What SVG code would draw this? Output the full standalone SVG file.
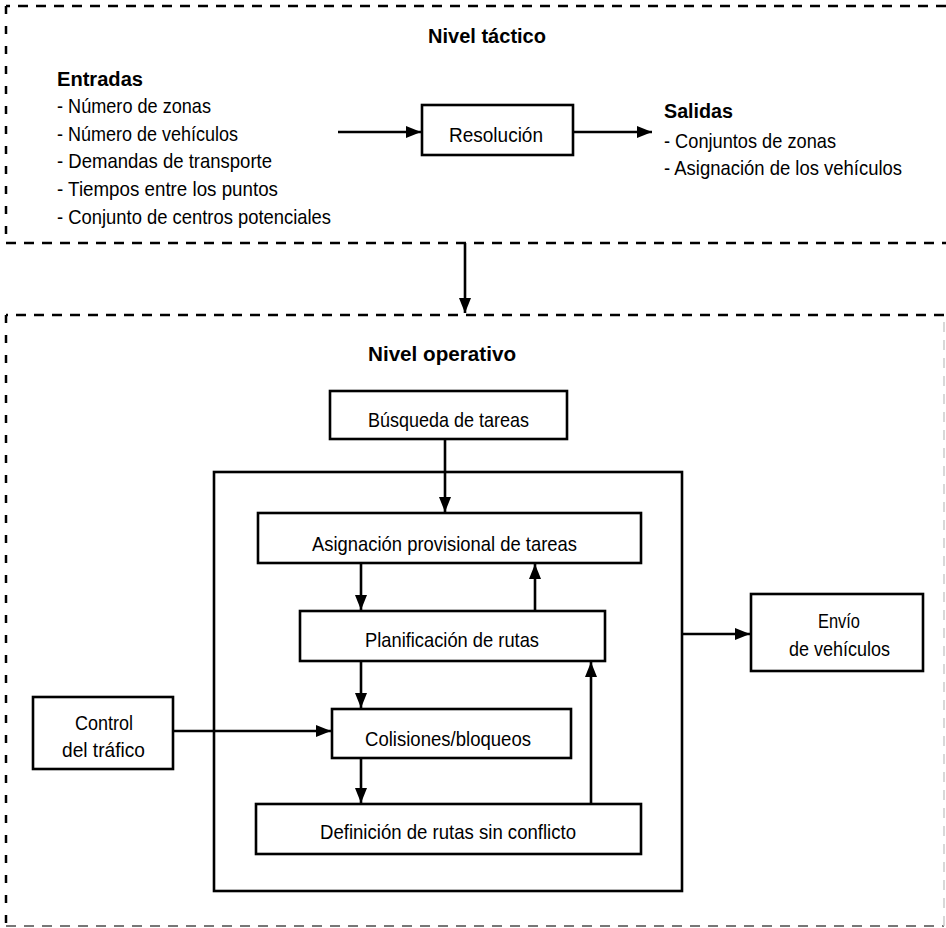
<svg xmlns="http://www.w3.org/2000/svg" width="946" height="928" viewBox="0 0 946 928">
<style>
text{font-family:"Liberation Sans",Arial,sans-serif;font-size:21px;fill:#000}
.b{font-weight:bold;font-size:20px}
.box{fill:#fff;stroke:#000;stroke-width:2.6}
.dash{fill:none;stroke:#000;stroke-width:2.5;stroke-dasharray:10 8}
.dashv{fill:none;stroke:#000;stroke-width:2.5;stroke-dasharray:8 12}
.dashg{fill:none;stroke:#777;stroke-width:2;stroke-dasharray:10 8}
.dashl{fill:none;stroke:#ccc;stroke-width:1.5;stroke-dasharray:10 8}
.c{fill:none;stroke:#000;stroke-width:2.6}
</style>
<defs>
<marker id="ah" markerUnits="userSpaceOnUse" markerWidth="16" markerHeight="12" refX="15" refY="6" orient="auto">
<path d="M0,0 L15,6 L0,12 z" fill="#000"/>
</marker>
</defs>
<rect width="946" height="928" fill="#fff"/>
<g id="nivel-tactico">
<path class="dash" d="M946,6 H6"/>
<path class="dashv" d="M6,6 V243"/>
<path class="dash" d="M6,243 H946"/>
<text class="b" x="428" y="43" textLength="118" lengthAdjust="spacingAndGlyphs">Nivel táctico</text>
</g>
<g id="entradas">
<text class="b" x="57" y="86" textLength="86" lengthAdjust="spacingAndGlyphs">Entradas</text>
<text x="57" y="113" textLength="154" lengthAdjust="spacingAndGlyphs">- Número de zonas</text>
<text x="57" y="141" textLength="181" lengthAdjust="spacingAndGlyphs">- Número de vehículos</text>
<text x="57" y="168" textLength="215" lengthAdjust="spacingAndGlyphs">- Demandas de transporte</text>
<text x="57" y="196" textLength="221" lengthAdjust="spacingAndGlyphs">- Tiempos entre los puntos</text>
<text x="57" y="224" textLength="274" lengthAdjust="spacingAndGlyphs">- Conjunto de centros potenciales</text>
</g>
<g id="resolucion">
<rect class="box" x="422" y="105" width="151" height="50"/>
<text x="449" y="142" textLength="94" lengthAdjust="spacingAndGlyphs">Resolución</text>
</g>
<g id="salidas">
<text class="b" x="664" y="118" textLength="69" lengthAdjust="spacingAndGlyphs">Salidas</text>
<text x="664" y="148" textLength="172" lengthAdjust="spacingAndGlyphs">- Conjuntos de zonas</text>
<text x="664" y="175" textLength="238" lengthAdjust="spacingAndGlyphs">- Asignación de los vehículos</text>
</g>
<g id="nivel-operativo">
<path class="dash" d="M944,315 H6"/>
<path class="dashv" d="M6,315 V926"/>
<path class="dashg" d="M6,926 H944"/>
<path class="dashl" d="M944,926 V315"/>
<text class="b" x="368" y="361" textLength="148" lengthAdjust="spacingAndGlyphs">Nivel operativo</text>
</g>
<g id="busqueda">
<rect class="box" x="330" y="391" width="237" height="48"/>
<text x="368" y="427" textLength="161" lengthAdjust="spacingAndGlyphs">Búsqueda de tareas</text>
</g>
<g id="bloque-interno">
<rect class="c" x="214" y="472" width="468" height="419"/>
</g>
<g id="asignacion">
<rect class="box" x="258" y="513" width="383" height="50"/>
<text x="312" y="551" textLength="265" lengthAdjust="spacingAndGlyphs">Asignación provisional de tareas</text>
</g>
<g id="planificacion">
<rect class="box" x="300" y="611" width="305" height="50"/>
<text x="365" y="647" textLength="174" lengthAdjust="spacingAndGlyphs">Planificación de rutas</text>
</g>
<g id="colisiones">
<rect class="box" x="332" y="709" width="239" height="49"/>
<text x="365" y="746" textLength="166" lengthAdjust="spacingAndGlyphs">Colisiones/bloqueos</text>
</g>
<g id="definicion">
<rect class="box" x="256" y="804" width="385" height="50"/>
<text x="320" y="839" textLength="256" lengthAdjust="spacingAndGlyphs">Definición de rutas sin conflicto</text>
</g>
<g id="control">
<rect class="box" x="33" y="697" width="140" height="72"/>
<text x="75" y="730" textLength="58" lengthAdjust="spacingAndGlyphs">Control</text>
<text x="62" y="757" textLength="83" lengthAdjust="spacingAndGlyphs">del tráfico</text>
</g>
<g id="envio">
<rect class="box" x="751" y="594" width="172" height="77"/>
<text x="818" y="628" textLength="42" lengthAdjust="spacingAndGlyphs">Envío</text>
<text x="789" y="656" textLength="101" lengthAdjust="spacingAndGlyphs">de vehículos</text>
</g>
<g id="conectores">
<path class="c" marker-end="url(#ah)" d="M338,132 H421"/>
<path class="c" marker-end="url(#ah)" d="M573,132 H652"/>
<path class="c" marker-end="url(#ah)" d="M465,243 V313"/>
<path class="c" marker-end="url(#ah)" d="M445,439 V512"/>
<path class="c" marker-end="url(#ah)" d="M361,563 V610"/>
<path class="c" marker-end="url(#ah)" d="M535,611 V564"/>
<path class="c" marker-end="url(#ah)" d="M361,661 V708"/>
<path class="c" marker-end="url(#ah)" d="M361,758 V803"/>
<path class="c" marker-end="url(#ah)" d="M591,804 V662"/>
<path class="c" marker-end="url(#ah)" d="M173,731 H331"/>
<path class="c" marker-end="url(#ah)" d="M682,634 H750"/>
</g>
</svg>
